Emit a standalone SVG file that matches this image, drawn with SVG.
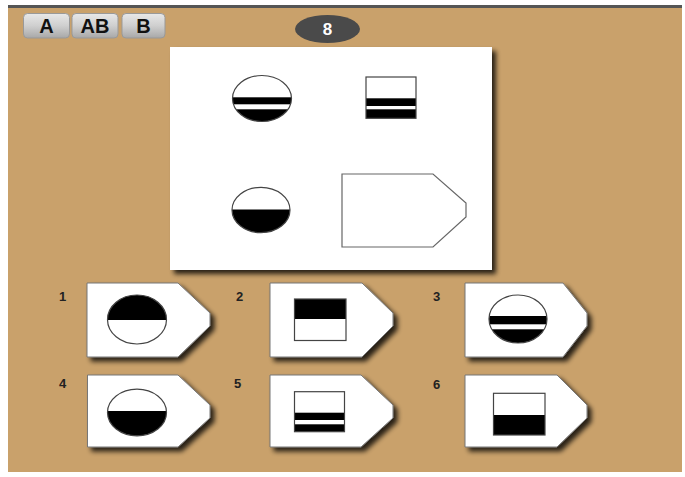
<svg xmlns="http://www.w3.org/2000/svg" width="685" height="477" viewBox="0 0 685 477">
<defs>
<filter id="sh" x="-20%" y="-20%" width="150%" height="150%">
<feGaussianBlur in="SourceAlpha" stdDeviation="2.5"/>
<feOffset dx="4" dy="4" result="b"/>
<feComponentTransfer><feFuncA type="linear" slope="0.8"/></feComponentTransfer>
<feMerge><feMergeNode/><feMergeNode in="SourceGraphic"/></feMerge>
</filter>
<linearGradient id="btn" x1="0" y1="0" x2="0" y2="1">
<stop offset="0" stop-color="#e8e8e8"/>
<stop offset="0.5" stop-color="#cfcfcf"/>
<stop offset="1" stop-color="#a8a8a8"/>
</linearGradient>
<clipPath id="c1"><ellipse cx="262" cy="98.5" rx="29.5" ry="23"/></clipPath>
<clipPath id="c2"><ellipse cx="261" cy="210" rx="29" ry="22.7"/></clipPath>
<clipPath id="c3"><ellipse cx="137" cy="319.5" rx="29.5" ry="24.5"/></clipPath>
<clipPath id="c4"><ellipse cx="518" cy="319" rx="29" ry="24"/></clipPath>
<clipPath id="c5"><ellipse cx="137" cy="412.5" rx="29.5" ry="23.3"/></clipPath>
</defs>
<style>
.lbl{font-family:"Liberation Sans",Arial,sans-serif;font-weight:bold;font-size:13px;fill:#222}
.btxt{font-family:"Liberation Sans",Arial,sans-serif;font-weight:bold;font-size:20px;fill:#111;text-anchor:middle}
.card{fill:#fff;stroke:#777;stroke-width:1}
.ol{fill:none;stroke:#444;stroke-width:1.2}
.blk{fill:#000}
</style>
<rect x="0" y="0" width="685" height="477" fill="#fff"/>
<rect x="8" y="7" width="674" height="465" fill="#c9a16b"/>
<rect x="8" y="5" width="674" height="3" fill="#555"/>

<g id="buttons">
<g id="btn-A"><rect x="23.5" y="13.5" width="46" height="24.5" rx="4" fill="url(#btn)" stroke="#999"/><text class="btxt" x="46.5" y="33">A</text></g>
<g id="btn-AB"><rect x="72" y="13.5" width="46" height="24.5" rx="4" fill="url(#btn)" stroke="#999"/><text class="btxt" x="95" y="33">AB</text></g>
<g id="btn-B"><rect x="122" y="13.5" width="43" height="24.5" rx="4" fill="url(#btn)" stroke="#999"/><text class="btxt" x="143.5" y="33">B</text></g>
</g>
<g id="counter">
<ellipse cx="327.5" cy="29" rx="32.5" ry="14" fill="#4a4a4a"/>
<text x="327.5" y="35" text-anchor="middle" font-family="'Liberation Sans',Arial,sans-serif" font-weight="bold" font-size="17" fill="#fff">8</text>
</g>

<g id="panel">
<rect x="170" y="47" width="322" height="223" fill="#fff" filter="url(#sh)"/>
<g id="p-circle-stripes">
<ellipse cx="262" cy="98.5" rx="29.5" ry="23" fill="#fff"/>
<g clip-path="url(#c1)"><rect class="blk" x="230" y="97.3" width="64" height="7"/><rect class="blk" x="230" y="109.3" width="64" height="15"/></g>
<ellipse class="ol" cx="262" cy="98.5" rx="29.5" ry="23"/>
</g>
<g id="p-rect-stripes">
<rect x="366" y="77" width="50" height="41.3" fill="#fff"/>
<rect class="blk" x="366" y="98.3" width="50" height="7.7"/><rect class="blk" x="366" y="109.3" width="50" height="9"/>
<rect class="ol" x="366" y="77" width="50" height="41.3"/>
</g>
<g id="p-circle-half">
<ellipse cx="261" cy="210" rx="29" ry="22.7" fill="#fff"/>
<g clip-path="url(#c2)"><rect class="blk" x="230" y="209.5" width="64" height="25"/></g>
<ellipse class="ol" cx="261" cy="210" rx="29" ry="22.7"/>
</g>
<polygon id="p-blank" points="342,174 433,174 466,203 466,217 433,247 342,247" fill="#fff" stroke="#666" stroke-width="1.2"/>
</g>

<g id="opt1">
<polygon class="card" points="87,283 178,283 210,313 210,326 178,357 87,357" filter="url(#sh)"/>
<ellipse cx="137" cy="319.5" rx="29.5" ry="24.5" fill="#fff"/>
<g clip-path="url(#c3)"><rect class="blk" x="105" y="293" width="64" height="27"/></g>
<ellipse class="ol" cx="137" cy="319.5" rx="29.5" ry="24.5"/>
<text class="lbl" x="59" y="301">1</text>
</g>
<g id="opt2">
<polygon class="card" points="270,283 362,283 393,313 393,326 362,357 270,357" filter="url(#sh)"/>
<rect class="blk" x="294.5" y="299" width="51.5" height="20"/>
<rect class="ol" x="294.5" y="299" width="51.5" height="41.5"/>
<text class="lbl" x="236" y="301">2</text>
</g>
<g id="opt3">
<polygon class="card" points="465,283 563,283 587,313 587,326 563,357 465,357" filter="url(#sh)"/>
<ellipse cx="518" cy="319" rx="29" ry="24" fill="#fff"/>
<g clip-path="url(#c4)"><rect class="blk" x="487" y="316" width="64" height="8.3"/><rect class="blk" x="487" y="329.3" width="64" height="16"/></g>
<ellipse class="ol" cx="518" cy="319" rx="29" ry="24"/>
<text class="lbl" x="433" y="301">3</text>
</g>
<g id="opt4">
<polygon class="card" points="87.5,375 178,375 210,405 210,418 178,447 87.5,447" filter="url(#sh)"/>
<ellipse cx="137" cy="412.5" rx="29.5" ry="23.3" fill="#fff"/>
<g clip-path="url(#c5)"><rect class="blk" x="105" y="411" width="64" height="27"/></g>
<ellipse class="ol" cx="137" cy="412.5" rx="29.5" ry="23.3"/>
<text class="lbl" x="59" y="388">4</text>
</g>
<g id="opt5">
<polygon class="card" points="270,375 361,375 393,405 393,418 361,447 270,447" filter="url(#sh)"/>
<rect x="294.5" y="391.7" width="50" height="40" fill="#fff"/>
<rect class="blk" x="294.5" y="412.7" width="50" height="7.3"/><rect class="blk" x="294.5" y="424.3" width="50" height="7.4"/>
<rect class="ol" x="294.5" y="391.7" width="50" height="40"/>
<text class="lbl" x="234" y="388">5</text>
</g>
<g id="opt6">
<polygon class="card" points="465,375 557,375 587,405 587,418 557,447 465,447" filter="url(#sh)"/>
<rect class="blk" x="493.5" y="415" width="51.5" height="20"/>
<rect class="ol" x="493.5" y="393.3" width="51.5" height="41.7"/>
<text class="lbl" x="433" y="389">6</text>
</g>
</svg>
